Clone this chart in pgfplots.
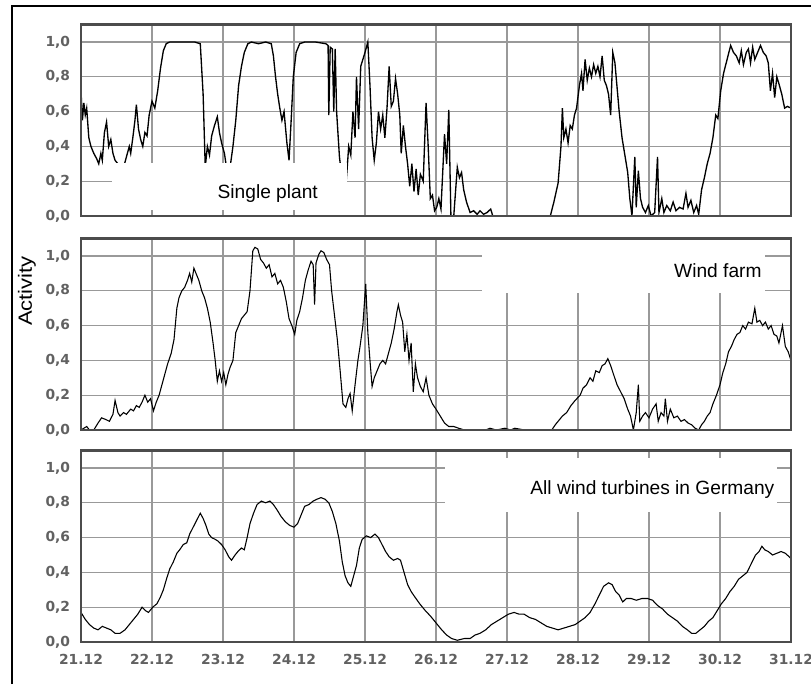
\documentclass[border=0pt]{standalone}
\usepackage{fontspec}
\setmainfont{Liberation Sans}
\newfontfamily\tickfont{DejaVu Sans}
\usepackage{pgfplots}
\pgfplotsset{compat=1.18}

\pgfplotsset{panel/.style={
  scale only axis, width=426pt, height=114.84pt,
  xmin=0, xmax=10, ymin=0, ymax=1.1,
  xtick={0,1,2,3,4,5,6,7,8,9,10},
  ytick={0,0.2,0.4,0.6,0.8,1.0},
  grid=major,
  major grid style={color=black!40, line width=0.8pt},
  axis line style={color=black!70, line width=1.3pt},
  major tick length=0pt,
  tick label style={font=\tickfont\bfseries\fontsize{8.3}{10}\selectfont, color=black!62},
  yticklabel style={xshift=-3pt, /pgf/number format/.cd, fixed, fixed zerofill, precision=1, use comma, assume math mode=true},
  xticklabel style={yshift=-4pt},
  xticklabels={},
  anchor=south west,
}}

\begin{document}
\begin{tikzpicture}
\useasboundingbox (0,0) rectangle (486.6pt,410.4pt);
\draw[black, line width=1.3pt] (7.2pt,0) -- (7.2pt,406.8pt) -- (486.6pt,406.8pt);

% Panel 1: single plant
\begin{axis}[panel, at={(48.6pt,280.8pt)}]
\addplot[black, line width=0.8pt] table {
0.00 0.72
0.02 0.55
0.04 0.65
0.06 0.58
0.08 0.62
0.11 0.45
0.14 0.40
0.18 0.36
0.22 0.33
0.25 0.30
0.28 0.36
0.30 0.32
0.33 0.48
0.36 0.54
0.39 0.40
0.42 0.44
0.45 0.36
0.48 0.32
0.52 0.30
0.56 0.26
0.60 0.28
0.64 0.34
0.68 0.40
0.70 0.36
0.73 0.45
0.76 0.55
0.78 0.64
0.81 0.50
0.84 0.44
0.87 0.40
0.90 0.48
0.93 0.46
0.96 0.58
1.00 0.66
1.04 0.62
1.08 0.72
1.12 0.85
1.16 0.95
1.20 0.99
1.25 1.00
1.40 1.00
1.60 1.00
1.68 0.99
1.72 0.70
1.75 0.28
1.78 0.40
1.81 0.35
1.84 0.46
1.88 0.52
1.92 0.57
1.95 0.48
1.98 0.42
2.02 0.36
2.06 0.25
2.10 0.28
2.14 0.40
2.18 0.55
2.22 0.75
2.26 0.86
2.30 0.94
2.35 0.99
2.40 1.00
2.50 0.99
2.60 1.00
2.68 0.99
2.71 0.92
2.74 0.80
2.77 0.70
2.80 0.62
2.83 0.55
2.86 0.60
2.90 0.42
2.93 0.32
2.96 0.55
2.99 0.80
3.03 0.94
3.08 0.99
3.15 1.00
3.30 1.00
3.45 0.99
3.48 0.98
3.49 0.58
3.51 0.97
3.54 0.96
3.56 0.60
3.58 0.96
3.60 0.60
3.64 0.34
3.68 0.20
3.72 0.12
3.75 0.28
3.77 0.40
3.80 0.35
3.83 0.60
3.86 0.45
3.88 0.80
3.91 0.50
3.94 0.86
3.97 0.90
4.00 0.94
4.04 1.00
4.07 0.75
4.10 0.45
4.13 0.32
4.16 0.42
4.19 0.60
4.22 0.50
4.25 0.58
4.28 0.45
4.31 0.62
4.34 0.86
4.37 0.63
4.40 0.66
4.43 0.79
4.46 0.70
4.49 0.58
4.51 0.36
4.54 0.52
4.57 0.40
4.60 0.30
4.63 0.17
4.66 0.30
4.69 0.14
4.72 0.27
4.75 0.12
4.78 0.24
4.82 0.20
4.86 0.65
4.89 0.40
4.92 0.10
4.95 0.12
4.98 0.03
5.01 0.05
5.04 0.10
5.07 0.04
5.12 0.47
5.15 0.30
5.18 0.61
5.21 0.00
5.25 0.00
5.30 0.28
5.33 0.22
5.36 0.25
5.39 0.15
5.43 0.08
5.48 0.02
5.53 0.03
5.58 0.01
5.62 0.03
5.67 0.01
5.72 0.02
5.77 0.04
5.80 0.00
6.61 0.00
6.66 0.08
6.72 0.19
6.76 0.40
6.78 0.62
6.80 0.45
6.83 0.50
6.86 0.42
6.89 0.52
6.92 0.50
6.95 0.58
6.98 0.62
7.02 0.75
7.05 0.82
7.07 0.72
7.10 0.90
7.13 0.78
7.16 0.85
7.19 0.80
7.22 0.87
7.25 0.82
7.28 0.86
7.31 0.80
7.34 0.92
7.37 0.78
7.40 0.75
7.43 0.70
7.46 0.58
7.49 0.94
7.52 0.88
7.55 0.74
7.58 0.60
7.62 0.45
7.66 0.35
7.70 0.25
7.73 0.10
7.76 0.00
7.80 0.34
7.82 0.05
7.85 0.26
7.88 0.10
7.91 0.05
7.95 0.02
7.99 0.06
8.03 0.00
8.08 0.02
8.12 0.34
8.14 0.02
8.18 0.10
8.21 0.02
8.25 0.06
8.30 0.03
8.34 0.08
8.38 0.03
8.43 0.05
8.48 0.04
8.52 0.13
8.55 0.05
8.59 0.09
8.63 0.02
8.67 0.06
8.70 0.01
8.74 0.15
8.78 0.22
8.82 0.30
8.86 0.36
8.90 0.45
8.94 0.58
8.97 0.56
9.01 0.72
9.05 0.82
9.10 0.90
9.15 0.98
9.19 0.94
9.23 0.92
9.27 0.88
9.30 0.95
9.33 0.87
9.37 0.94
9.40 0.96
9.43 0.88
9.46 0.97
9.49 0.90
9.53 0.94
9.57 0.98
9.61 0.94
9.65 0.92
9.68 0.88
9.71 0.72
9.74 0.82
9.77 0.68
9.80 0.80
9.83 0.76
9.87 0.70
9.91 0.62
9.95 0.63
10.00 0.62
};
\fill[white] (axis cs:0.44,0.034) rectangle (axis cs:3.75,0.305);
\node[anchor=base, font=\fontsize{11.5}{13}\selectfont, inner sep=0pt] at (axis cs:2.63,0.098) {Single plant};
\end{axis}
\draw[black!70, line width=1.4pt] (48.6pt,280.8pt) rectangle (474.6pt,395.64pt);

% Panel 2: wind farm
\begin{axis}[panel, at={(48.6pt,152.4pt)}]
\addplot[black, line width=0.65pt] table {
0.00 0.00
0.04 0.01
0.08 0.02
0.12 0.00
0.18 0.00
0.24 0.04
0.29 0.07
0.35 0.06
0.40 0.05
0.45 0.09
0.48 0.17
0.52 0.10
0.55 0.08
0.60 0.10
0.64 0.09
0.70 0.12
0.74 0.11
0.78 0.14
0.82 0.13
0.86 0.16
0.90 0.20
0.94 0.16
0.98 0.18
1.02 0.11
1.06 0.16
1.10 0.20
1.14 0.26
1.18 0.32
1.22 0.38
1.27 0.44
1.31 0.52
1.35 0.70
1.38 0.76
1.42 0.80
1.46 0.82
1.50 0.86
1.53 0.90
1.56 0.85
1.59 0.93
1.62 0.90
1.66 0.86
1.70 0.80
1.74 0.76
1.78 0.70
1.82 0.62
1.86 0.50
1.89 0.40
1.92 0.28
1.95 0.34
1.98 0.28
2.01 0.33
2.04 0.26
2.07 0.32
2.10 0.36
2.14 0.40
2.18 0.56
2.22 0.60
2.26 0.64
2.30 0.66
2.34 0.68
2.38 0.80
2.42 1.03
2.45 1.05
2.49 1.04
2.53 0.98
2.57 0.96
2.61 0.93
2.65 0.95
2.69 0.88
2.73 0.90
2.77 0.84
2.81 0.86
2.85 0.82
2.89 0.74
2.93 0.64
2.97 0.60
3.01 0.55
3.04 0.63
3.08 0.68
3.12 0.76
3.16 0.86
3.20 0.92
3.24 0.97
3.27 0.95
3.29 0.72
3.31 0.96
3.35 1.01
3.38 1.03
3.42 1.02
3.46 0.98
3.50 0.95
3.53 0.80
3.57 0.66
3.61 0.52
3.65 0.34
3.69 0.15
3.73 0.13
3.76 0.18
3.79 0.21
3.82 0.11
3.86 0.26
3.90 0.40
3.93 0.48
3.97 0.60
4.01 0.84
4.04 0.56
4.07 0.40
4.10 0.25
4.13 0.30
4.17 0.34
4.21 0.38
4.25 0.40
4.29 0.38
4.33 0.44
4.37 0.50
4.41 0.58
4.45 0.68
4.47 0.72
4.50 0.66
4.53 0.62
4.56 0.45
4.59 0.55
4.62 0.40
4.65 0.50
4.68 0.22
4.71 0.38
4.74 0.30
4.78 0.25
4.82 0.22
4.86 0.30
4.90 0.20
4.95 0.15
5.00 0.12
5.06 0.08
5.12 0.04
5.18 0.02
5.25 0.02
5.32 0.01
5.40 0.00
5.55 0.00
5.70 0.00
5.76 0.01
5.85 0.00
5.97 0.01
6.05 0.00
6.11 0.01
6.25 0.00
6.63 0.00
6.68 0.03
6.72 0.05
6.78 0.08
6.84 0.10
6.90 0.14
6.96 0.17
7.03 0.20
7.07 0.24
7.12 0.26
7.17 0.30
7.21 0.28
7.25 0.34
7.30 0.33
7.34 0.37
7.38 0.38
7.42 0.41
7.46 0.37
7.50 0.32
7.55 0.26
7.60 0.22
7.65 0.18
7.70 0.12
7.74 0.08
7.78 0.00
7.82 0.10
7.85 0.26
7.87 0.05
7.91 0.08
7.95 0.10
8.00 0.07
8.05 0.12
8.10 0.15
8.13 0.05
8.17 0.10
8.21 0.08
8.23 0.18
8.26 0.05
8.30 0.12
8.35 0.07
8.40 0.08
8.45 0.05
8.50 0.06
8.55 0.04
8.60 0.03
8.65 0.01
8.70 0.00
8.74 0.03
8.78 0.05
8.82 0.08
8.86 0.10
8.90 0.15
8.95 0.20
9.00 0.26
9.04 0.33
9.08 0.38
9.12 0.45
9.16 0.48
9.20 0.52
9.24 0.55
9.28 0.56
9.32 0.60
9.36 0.58
9.40 0.62
9.45 0.61
9.49 0.70
9.52 0.62
9.56 0.63
9.60 0.60
9.64 0.62
9.68 0.58
9.72 0.60
9.76 0.55
9.80 0.54
9.83 0.50
9.88 0.60
9.92 0.48
9.96 0.45
10.00 0.40
};
\fill[white] (axis cs:5.65,0.787) rectangle (axis cs:9.63,1.09);
\node[anchor=base east, font=\fontsize{11.5}{13}\selectfont, inner sep=0pt] at (axis cs:9.59,0.877) {Wind farm};
\end{axis}
\draw[black!70, line width=1.4pt] (48.6pt,152.4pt) rectangle (474.6pt,267.24pt);

% Panel 3: Germany
\begin{axis}[panel, at={(48.6pt,25.2pt)},
  xticklabels={21.12,22.12,23.12,24.12,25.12,26.12,27.12,28.12,29.12,30.12,31.12\hspace{3pt}}]
\addplot[black, line width=0.65pt] table {
0.00 0.17
0.06 0.13
0.12 0.10
0.18 0.08
0.24 0.07
0.30 0.09
0.36 0.08
0.42 0.07
0.48 0.05
0.55 0.05
0.62 0.07
0.68 0.10
0.74 0.13
0.80 0.16
0.86 0.20
0.91 0.18
0.95 0.17
1.01 0.20
1.07 0.22
1.12 0.26
1.16 0.30
1.21 0.37
1.25 0.42
1.30 0.46
1.35 0.51
1.39 0.53
1.44 0.56
1.49 0.57
1.53 0.62
1.58 0.66
1.63 0.70
1.68 0.74
1.72 0.71
1.76 0.67
1.80 0.62
1.84 0.60
1.89 0.59
1.93 0.58
1.98 0.56
2.03 0.53
2.08 0.49
2.12 0.47
2.17 0.50
2.21 0.52
2.26 0.54
2.30 0.53
2.34 0.60
2.38 0.68
2.43 0.74
2.48 0.79
2.54 0.81
2.60 0.80
2.66 0.81
2.71 0.79
2.76 0.76
2.82 0.72
2.88 0.69
2.94 0.67
3.00 0.66
3.05 0.68
3.10 0.73
3.15 0.78
3.21 0.79
3.27 0.81
3.32 0.82
3.38 0.83
3.44 0.82
3.49 0.80
3.54 0.75
3.59 0.68
3.64 0.58
3.68 0.46
3.72 0.38
3.76 0.34
3.80 0.32
3.84 0.38
3.88 0.44
3.92 0.54
3.96 0.59
4.02 0.61
4.08 0.60
4.14 0.62
4.19 0.60
4.24 0.56
4.29 0.52
4.34 0.49
4.40 0.47
4.46 0.48
4.50 0.47
4.55 0.40
4.60 0.33
4.65 0.29
4.70 0.26
4.77 0.22
4.85 0.18
4.92 0.15
5.00 0.11
5.08 0.07
5.15 0.04
5.22 0.02
5.30 0.01
5.40 0.02
5.48 0.02
5.55 0.04
5.62 0.05
5.70 0.07
5.78 0.10
5.86 0.12
5.94 0.14
6.02 0.16
6.10 0.17
6.17 0.16
6.24 0.16
6.32 0.14
6.40 0.13
6.48 0.11
6.56 0.09
6.64 0.08
6.72 0.07
6.80 0.08
6.88 0.09
6.96 0.10
7.03 0.12
7.10 0.14
7.17 0.17
7.24 0.22
7.30 0.27
7.36 0.32
7.43 0.34
7.48 0.33
7.53 0.29
7.58 0.27
7.63 0.23
7.68 0.25
7.75 0.25
7.82 0.24
7.90 0.25
7.98 0.25
8.05 0.24
8.12 0.21
8.19 0.19
8.26 0.16
8.33 0.14
8.40 0.12
8.47 0.09
8.54 0.07
8.60 0.05
8.66 0.05
8.72 0.07
8.78 0.09
8.84 0.12
8.90 0.14
8.96 0.18
9.02 0.22
9.08 0.25
9.14 0.29
9.20 0.32
9.26 0.36
9.32 0.38
9.38 0.40
9.44 0.45
9.50 0.50
9.55 0.52
9.59 0.55
9.63 0.53
9.68 0.52
9.74 0.50
9.80 0.51
9.86 0.52
9.92 0.51
10.00 0.48
};
\fill[white] (axis cs:5.13,0.747) rectangle (axis cs:9.80,1.057);
\node[anchor=base east, font=\fontsize{11.5}{13}\selectfont, inner sep=0pt] at (axis cs:9.77,0.85) {All wind turbines in Germany};
\end{axis}
\draw[black!70, line width=1.4pt] (48.6pt,25.2pt) rectangle (474.6pt,140.04pt);

\node[rotate=90, font=\fontsize{11.5}{13}\selectfont, inner sep=0pt] at (16.2pt,235.8pt) {\scalebox{1.15}[1]{Activity}};
\end{tikzpicture}
\end{document}
